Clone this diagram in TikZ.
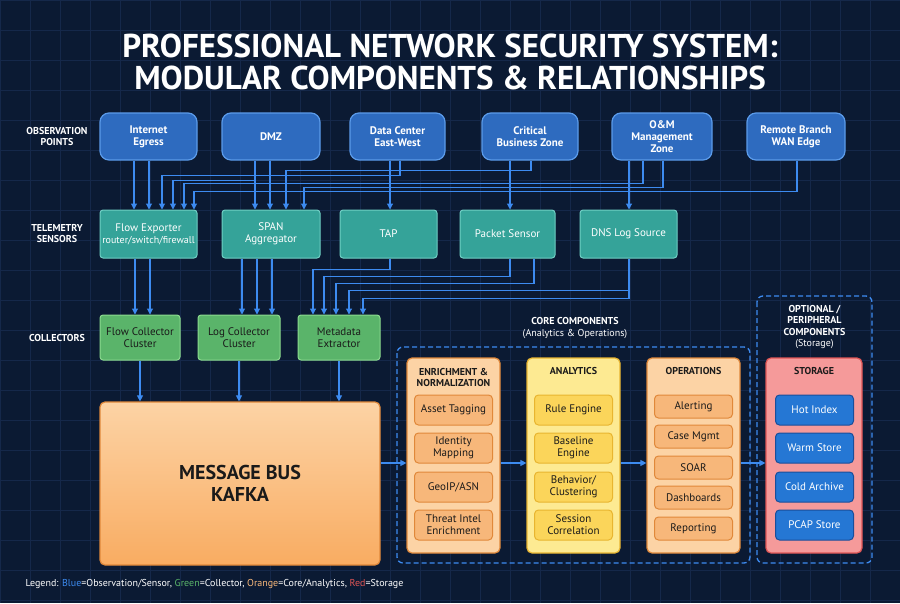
\documentclass[tikz,border=0pt]{standalone}
\usepackage{fontspec}
\setmainfont{PT Sans}
\usetikzlibrary{arrows.meta,calc}
\definecolor{bg}{HTML}{0B1A33}
\definecolor{gridc}{HTML}{15284A}
\definecolor{wirec}{HTML}{3D8BF0}
\definecolor{obsf}{HTML}{2E6BBF}
\definecolor{obsd}{HTML}{5B9BEA}
\definecolor{senf}{HTML}{35A399}
\definecolor{send}{HTML}{6FD0C4}
\definecolor{colf}{HTML}{5AB46A}
\definecolor{cold}{HTML}{8CDB8F}
\definecolor{enrf}{HTML}{FCD3A5}
\definecolor{enri}{HTML}{F7B77A}
\definecolor{enrd}{HTML}{E0883A}
\definecolor{anaf}{HTML}{FDEA92}
\definecolor{anai}{HTML}{FBD55A}
\definecolor{anad}{HTML}{E8B530}
\definecolor{stof}{HTML}{F59A9A}
\definecolor{stod}{HTML}{E05555}
\definecolor{stoi}{HTML}{2577D4}
\definecolor{stoid}{HTML}{1A4E9A}
\definecolor{txtd}{HTML}{1A1A1A}
\tikzset{
  obs/.style={draw=obsd, fill=obsf, rounded corners=9pt, line width=1.2pt, text=white, font=\bfseries\fontsize{11}{12}\selectfont, align=center, minimum height=47pt, inner sep=0pt},
  sen/.style={draw=send, fill=senf, rounded corners=3pt, line width=1pt, text=white, font=\fontsize{11}{12}\selectfont, align=center, minimum height=48pt, inner sep=0pt},
  col/.style={draw=cold, fill=colf, rounded corners=3pt, line width=1pt, text=txtd, font=\fontsize{11}{12}\selectfont, align=center, minimum height=45pt, inner sep=0pt},
  column/.style={rounded corners=5pt, line width=1.2pt, minimum width=93pt, minimum height=195pt, inner sep=0pt},
  item/.style={rounded corners=4pt, line width=1pt, text=txtd, font=\fontsize{11}{12}\selectfont, align=center, minimum width=78pt, inner sep=0pt},
  head/.style={font=\bfseries\fontsize{10}{11}\selectfont, text=txtd, align=center},
  rowlab/.style={font=\bfseries\fontsize{10}{11}\selectfont, text=white, align=center},
  wire/.style={draw=wirec, line width=1.1pt},
  arr/.style={wire, -{Triangle[length=6pt,width=6pt]}},
  group/.style={draw=wirec, dashed, dash pattern=on 5pt off 3pt, line width=1.3pt, rounded corners=6pt}
}
\begin{document}
\begin{tikzpicture}[x=1pt,y=-1pt]
\useasboundingbox (0,0) rectangle (900,603);
\fill[bg] (0,0) rectangle (900,603);
\foreach \i in {0,30,...,900} \draw[gridc, line width=0.5pt] (\i,0) -- (\i,603);
\foreach \j in {0,30,...,600} \draw[gridc, line width=0.5pt] (0,\j) -- (900,\j);

% title
\node[text=white, font=\bfseries\fontsize{33}{32}\selectfont, align=center] (title) at (450,62) {PROFESSIONAL NETWORK SECURITY SYSTEM:\\MODULAR COMPONENTS \& RELATIONSHIPS};

% row labels
\node[rowlab] (lobs) at (57,136) {OBSERVATION\\POINTS};
\node[rowlab] (lsen) at (57,234) {TELEMETRY\\SENSORS};
\node[rowlab] (lcol) at (57,338) {COLLECTORS};

% observation points
\node[obs, minimum width=97pt] (egress) at (148.5,136.5) {Internet\\Egress};
\node[obs, minimum width=98pt] (dmz) at (271,136.5) {DMZ};
\node[obs, minimum width=95pt] (dc) at (397.5,136.5) {Data Center\\East-West};
\node[obs, minimum width=96pt] (crit) at (530,136.5) {Critical\\Business Zone};
\node[obs, minimum width=100pt] (om) at (662,136.5) {O\&M\\Management\\Zone};
\node[obs, minimum width=98pt] (remote) at (796,136.5) {Remote Branch\\WAN Edge};

% telemetry sensors
\node[sen, minimum width=97pt] (flow) at (148.5,234) {Flow Exporter\\{\fontsize{10}{11}\selectfont router/switch/firewall}};
\node[sen, minimum width=98pt] (span) at (271,234) {SPAN\\Aggregator};
\node[sen, minimum width=97pt] (tap) at (388.5,234) {TAP};
\node[sen, minimum width=95pt] (pkt) at (507.5,234) {Packet Sensor};
\node[sen, minimum width=97pt] (dns) at (628.5,234) {DNS Log Source};

% collectors
\node[col, minimum width=80pt] (fcol) at (140,337.5) {Flow Collector\\Cluster};
\node[col, minimum width=82pt] (lcolr) at (239,337.5) {Log Collector\\Cluster};
\node[col, minimum width=82pt] (meta) at (339,337.5) {Metadata\\Extractor};

% message bus
\node[draw=enrd, line width=1.2pt, rounded corners=5pt, top color=enrf, bottom color=enri!80!orange, minimum width=280pt, minimum height=163pt, text=txtd, font=\bfseries\fontsize{20}{22}\selectfont, align=center] (bus) at (240,483.5) {MESSAGE BUS\\KAFKA};

% groups
\draw[group] (397,347) rectangle (750,563);
\node[text=white, font=\bfseries\fontsize{10}{11.5}\selectfont, align=center] (coretitle) at (575,328) {CORE COMPONENTS\\{\mdseries (Analytics \& Operations)}};
\draw[group] (757,296) rectangle (872,563);
\node[text=white, font=\bfseries\fontsize{10}{11.5}\selectfont, align=center] (opttitle) at (814.5,327) {OPTIONAL /\\PERIPHERAL\\COMPONENTS\\{\mdseries (Storage)}};

% columns
\node[column, draw=enrd, fill=enrf] (enr) at (453.5,455.5) {};
\node[column, draw=anad, fill=anaf] (ana) at (573.5,455.5) {};
\node[column, draw=enrd, fill=enrf] (ops) at (693.5,455.5) {};
\node[column, draw=stod, fill=stof, minimum width=96pt] (sto) at (814,455.5) {};
\node[head] at (453.5,377) {ENRICHMENT \&\\NORMALIZATION};
\node[head] at (573.5,371) {ANALYTICS};
\node[head] at (693.5,371) {OPERATIONS};
\node[head] at (814,371) {STORAGE};

\foreach \n/\t/\y in {asset/{Asset Tagging}/410, ident/{Identity\\Mapping}/448, geo/{GeoIP/ASN}/487, threat/{Threat Intel\\Enrichment}/525}
  \node[item, draw=enrd, fill=enri, minimum height=30pt] (\n) at (453.5,\y) {\t};
\foreach \n/\t/\y in {rule/{Rule Engine}/410, base/{Baseline\\Engine}/448, behav/{Behavior/\\Clustering}/487, sess/{Session\\Correlation}/525}
  \node[item, draw=anad, fill=anai, minimum height=30pt] (\n) at (573.5,\y) {\t};
\foreach \n/\t/\y in {alert/{Alerting}/406.5, case/{Case Mgmt}/436.5, soar/{SOAR}/467.5, dash/{Dashboards}/497.5, rep/{Reporting}/528.5}
  \node[item, draw=enrd, fill=enri, minimum height=23pt] (\n) at (693.5,\y) {\t};
\foreach \n/\t/\y in {hot/{Hot Index}/410, warm/{Warm Store}/448, cold/{Cold Archive}/487, pcap/{PCAP Store}/525}
  \node[item, draw=stoid, fill=stoi, text=white, minimum height=30pt] (\n) at (814.5,\y) {\t};

% observation -> sensors
\draw[arr] ([xshift=-14.5pt]egress.south) -- ([xshift=-14.5pt]flow.north);
\draw[arr] ([xshift=0.5pt]egress.south) -- ([xshift=0.5pt]flow.north);
\draw[arr] ([xshift=2.5pt]dc.south) -- ++(0,15) -| ([xshift=13.5pt]flow.north);
\draw[arr] ([xshift=-16pt]dmz.south) -- ++(0,20) -| ([xshift=24.5pt]flow.north);
\draw[arr] ([xshift=-19pt]om.south) -- ++(0,23) -| ([xshift=35.5pt]flow.north);
\draw[arr] ([xshift=1pt]remote.south) -- ++(0,31) -| ([xshift=45.5pt]flow.north);
\draw[arr] ([xshift=-16pt]dmz.south) -- ([xshift=-16pt]span.north);
\draw[arr] ([xshift=-1pt]dmz.south) -- ([xshift=-1pt]span.north);
\draw[arr] ([xshift=1pt]crit.south) -- ++(0,10) -| ([xshift=15pt]span.north);
\draw[arr] ([xshift=1pt]om.south) -- ++(0,27) -| ([xshift=33pt]span.north);
\draw[arr] ([xshift=-7.5pt]dc.south) -- ([xshift=1.5pt]tap.north);
\draw[arr] ([xshift=-20pt]crit.south) -- ([xshift=2.5pt]pkt.north);
\draw[arr] ([xshift=-33pt]om.south) -- ([xshift=0.5pt]dns.north);

% sensors -> collectors
\draw[arr] ([xshift=-13.5pt]flow.south) -- ([xshift=-5pt]fcol.north);
\draw[arr] ([xshift=1.5pt]flow.south) -- ([xshift=10pt]fcol.north);
\draw[arr] ([xshift=-29pt]span.south) -- ([xshift=3pt]lcolr.north);
\draw[arr] ([xshift=-14pt]span.south) -- ([xshift=18pt]lcolr.north);
\draw[arr] ([xshift=1pt]span.south) -- ([xshift=33pt]lcolr.north);
\draw[arr] ([xshift=1.5pt]tap.south) -- ++(0,11) -| ([xshift=-26pt]meta.north);
\draw[arr] ([xshift=2.5pt]pkt.south) -- ++(0,18) -| ([xshift=-15pt]meta.north);
\draw[arr] ([xshift=26.5pt]pkt.south) -- ++(0,25) -| ([xshift=-3pt]meta.north);
\draw[arr] ([xshift=0.5pt]dns.south) -- ++(0,32) -| ([xshift=10pt]meta.north);
\draw[arr] ([xshift=0.5pt]dns.south) -- ++(0,40) -| ([xshift=24pt]meta.north);

% collectors -> bus
\draw[arr] (fcol.south) -- (fcol.south |- bus.north);
\draw[arr] (lcolr.south) -- (lcolr.south |- bus.north);
\draw[arr] (meta.south) -- (meta.south |- bus.north);

% pipeline
\draw[arr] ([yshift=-7.5pt]bus.east |- enr.west) -- ([yshift=-7.5pt]enr.west);
\draw[arr] ([yshift=-7.5pt]enr.east) -- ([yshift=-7.5pt]ana.west);
\draw[arr] ([yshift=-7.5pt]ana.east) -- ([yshift=-7.5pt]ops.west);
\draw[arr] ([yshift=-7.5pt]ops.east) -- ([yshift=-7.5pt]sto.west);

% legend
\node[anchor=west, text=white, font=\fontsize{10}{11}\selectfont] (legend) at (22,584) {Legend: \textcolor{wirec}{Blue}=Observation/Sensor, \textcolor{colf}{Green}=Collector, \textcolor{enri}{Orange}=Core/Analytics, \textcolor{stod}{Red}=Storage};
\end{tikzpicture}
\end{document}
